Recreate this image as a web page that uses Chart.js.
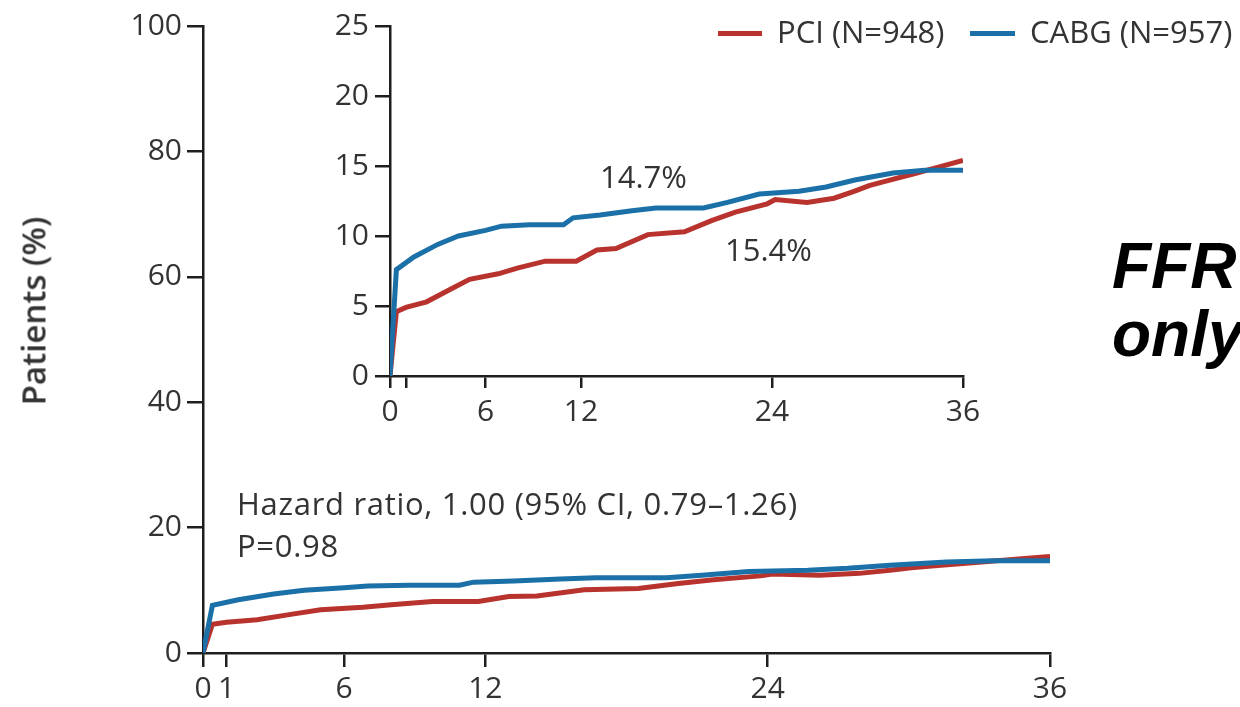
<!DOCTYPE html>
<html>
<head>
<meta charset="utf-8">
<script src="https://cdn.jsdelivr.net/npm/chart.js@4/dist/chart.umd.min.js"></script>
<style>
  html, body { margin: 0; padding: 0; background: #fff; }
  #wrap { position: relative; width: 1240px; height: 707px; overflow: hidden; font-family: 'Open Sans', sans-serif; color: #333; }
  canvas { position: absolute; }
  #mainChart { left: 0; top: 0; }
  #insetChart { left: 0; top: 0; }
  .txt { position: absolute; font-size: 31px; white-space: nowrap; line-height: 1; }
  .wide { letter-spacing: 0.7px; }
  .key { position: absolute; height: 5px; }
  #ylab { position: absolute; left: 33px; top: 311px; transform: translate(-50%, -50%) rotate(-90deg); font-size: 33px; font-weight: 600; white-space: nowrap; }
  #ffr { position: absolute; left: 1112px; top: 232px; font-family: 'Liberation Sans', Arial, sans-serif; font-weight: bold; font-style: italic; font-size: 64px; line-height: 68px; color: #000; }
</style>
</head>
<body>
<div id="wrap">
  <canvas id="mainChart" width="1240" height="707"></canvas>
  <canvas id="insetChart" width="1240" height="707"></canvas>
  <div id="ylab">Patients (%)</div>
  <div class="key" style="left:718px; top:31px; width:44px; background:#b8332e;"></div>
  <div class="txt" style="left:777px; top:16px;">PCI (N=948)</div>
  <div class="key" style="left:970px; top:31px; width:45px; background:#1b70a8;"></div>
  <div class="txt" style="left:1030px; top:16px;">CABG (N=957)</div>
  <div class="txt wide" style="left:237px; top:488px;">Hazard ratio, 1.00 (95% CI, 0.79–1.26)</div>
  <div class="txt wide" style="left:237px; top:530px;">P=0.98</div>
  <div class="txt" style="left:600px; top:161px;">14.7%</div>
  <div class="txt" style="left:725px; top:234px;">15.4%</div>
  <div id="ffr">FFR<br>only</div>
</div>
<script>
// months since randomization
const pciMonths  = [0, 0.4, 1.0, 2.3, 3.8, 5.0, 6.8, 8.0, 9.75, 11.7, 13.0, 14.2, 16.2, 18.5, 20.2, 21.7, 23.7, 24.2, 26.2, 27.9, 29.2, 30.1, 31.1, 33.1, 34.4, 36];
const pciValues  = [0, 4.6, 4.9, 5.3, 6.2, 6.9, 7.3, 7.7, 8.2, 8.2, 9.0, 9.1, 10.1, 10.3, 11.1, 11.7, 12.3, 12.6, 12.4, 12.7, 13.2, 13.6, 13.9, 14.5, 14.9, 15.4];
const cabgMonths = [0, 0.4, 1.5, 3.0, 4.3, 6.0, 7.0, 8.75, 10.9, 11.5, 13.2, 15.2, 16.7, 19.7, 21.2, 23.2, 25.7, 27.4, 29.2, 31.6, 33.6, 36];
const cabgValues = [0, 7.6, 8.5, 9.4, 10.0, 10.4, 10.7, 10.8, 10.8, 11.3, 11.5, 11.8, 12.0, 12.0, 12.4, 13.0, 13.2, 13.5, 14.0, 14.5, 14.7, 14.7];

const xTicks = [0, 1, 6, 12, 24, 36];
const mainYTicks = [0, 20, 40, 60, 80, 100];
const insetYTicks = [0, 5, 10, 15, 20, 25];

const RED = '#b8332e';
const BLUE = '#1b70a8';
const AXIS = '#1e1e1e';

function points(xs, ys) {
    return xs.map((x, i) => ({ x: x, y: ys[i] }));
}

function datasets(width) {
    return [
        { label: 'CABG (N=957)', data: points(cabgMonths, cabgValues), borderColor: BLUE, borderWidth: width, pointRadius: 0, tension: 0, fill: false },
        { label: 'PCI (N=948)', data: points(pciMonths, pciValues), borderColor: RED, borderWidth: width, pointRadius: 0, tension: 0, fill: false }
    ];
}

function makeChart(id, box, yMax, yTicks, hideOne, tk) {
    const font = { family: "'Open Sans', sans-serif", size: 30 };
    return new Chart(document.getElementById(id), {
        type: 'line',
        data: { datasets: datasets(5) },
        options: {
            responsive: false,
            animation: false,
            layout: { padding: { left: 0, top: box.top, right: 1240 - box.right, bottom: 0 } },
            plugins: { legend: { display: false }, tooltip: { enabled: false } },
            scales: {
                x: {
                    type: 'linear', min: 0, max: 36,
                    afterBuildTicks: s => { s.ticks = xTicks.map(v => ({ value: v })); },
                    afterFit: s => { s.height = 707 - box.bottom; },
                    ticks: { color: '#333', font: font, padding: tk.xPad, maxRotation: 0, autoSkip: false,
                             callback: v => (hideOne && v === 1) ? '' : String(v) },
                    grid: { drawOnChartArea: false, drawTicks: true, tickLength: tk.xLen, color: AXIS, lineWidth: 2.5 },
                    border: { display: true, color: AXIS, width: 2.5 }
                },
                y: {
                    type: 'linear', min: 0, max: yMax,
                    afterBuildTicks: s => { s.ticks = yTicks.map(v => ({ value: v })); },
                    afterFit: s => { s.width = box.left; },
                    ticks: { color: '#333', font: font, padding: tk.yPad },
                    grid: { drawOnChartArea: false, drawTicks: true, tickLength: tk.yLen, color: AXIS, lineWidth: 2.5 },
                    border: { display: true, color: AXIS, width: 2.5 }
                }
            }
        }
    });
}

makeChart('mainChart', { left: 203, right: 1050, top: 26, bottom: 653 }, 100, mainYTicks, false,
          { xLen: 14, xPad: 4, yLen: 16, yPad: 5 });
makeChart('insetChart', { left: 390, right: 963, top: 26, bottom: 376 }, 25, insetYTicks, true,
          { xLen: 12, xPad: 6, yLen: 15, yPad: 6 });
</script>
</body>
</html>
